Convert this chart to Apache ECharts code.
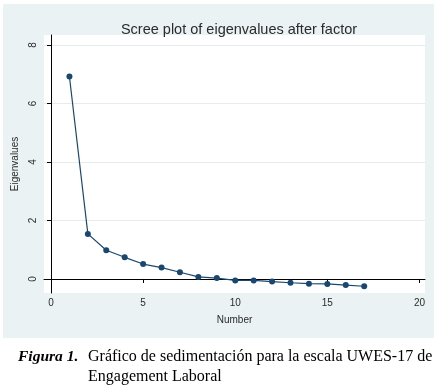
<!DOCTYPE html>
<html>
<head>
<meta charset="utf-8">
<script src="https://cdn.jsdelivr.net/npm/echarts@6/dist/echarts.min.js"></script>
<style>
  html, body { margin: 0; padding: 0; background: #ffffff; }
  #chart { width: 440px; height: 389px; }
</style>
</head>
<body>
<div id="chart"></div>
<script>
// eigenvalue number and value
const factorNumbers = [1, 2, 3, 4, 5, 6, 7, 8, 9, 10, 11, 12, 13, 14, 15, 16, 17]
const eigenvalues = [6.92, 1.54, 0.98, 0.74, 0.51, 0.39, 0.23, 0.07, 0.03, -0.05, -0.05, -0.09, -0.13, -0.16, -0.17, -0.21, -0.25]
const xTicks = [0, 5, 10, 15, 20]
const yTicks = [0, 2, 4, 6, 8]

const navy = '#1a476f'
const panel = '#eaf2f3'
const ink = '#2b2b2b'
const captionFont = '"Liberation Serif", "Times New Roman", serif'

const chart = echarts.init(document.getElementById('chart'))

chart.setOption({
  animation: false,
  backgroundColor: '#ffffff',
  textStyle: { fontFamily: 'Liberation Sans, Arial, sans-serif' },
  graphic: [
    {
      type: 'rect',
      z: -10,
      shape: { x: 3, y: 4, width: 431, height: 334 },
      style: { fill: panel },
    },
    {
      type: 'text',
      left: 18,
      top: 347,
      style: {
        text: 'Figura 1.',
        font: 'italic bold 15.5px ' + captionFont,
        lineHeight: 20,
        fill: '#000',
      },
    },
    {
      type: 'text',
      left: 88,
      top: 347,
      style: {
        text: 'Gráfico de sedimentación para la escala UWES-17 de\nEngagement Laboral',
        font: '16px ' + captionFont,
        lineHeight: 20,
        fill: '#000',
      },
    },
  ],
  title: {
    text: 'Scree plot of eigenvalues after factor',
    left: 234,
    textAlign: 'center',
    top: 17,
    textStyle: { fontSize: 14.5, fontWeight: 'normal', color: ink },
  },
  grid: {
    left: 44,
    top: 35,
    right: 15,
    bottom: 96,
    show: true,
    backgroundColor: '#ffffff',
    borderWidth: 0,
  },
  xAxis: {
    type: 'value',
    min: -0.38,
    max: 20.3,
    name: 'Number',
    nameLocation: 'middle',
    nameGap: 22,
    nameTextStyle: { fontSize: 10, color: ink },
    axisLine: { show: true, lineStyle: { color: '#000', width: 1 } },
    axisTick: { show: true, length: 4, customValues: xTicks, lineStyle: { color: '#000' } },
    axisLabel: { customValues: xTicks, fontSize: 10, color: ink, margin: 5 },
    splitLine: { show: false },
  },
  yAxis: {
    type: 'value',
    min: -0.48,
    max: 8.34,
    name: 'Eigenvalues',
    nameLocation: 'middle',
    nameRotate: 90,
    nameGap: 20,
    nameTextStyle: { fontSize: 10, color: ink },
    axisLine: { show: true, lineStyle: { color: '#000', width: 1 } },
    axisTick: { show: true, length: 4, customValues: yTicks, lineStyle: { color: '#000' } },
    axisLabel: { customValues: yTicks, fontSize: 10, color: ink, rotate: 90, margin: 6 },
    splitLine: { show: true, lineStyle: { color: '#e6ebee', width: 1 } },
  },
  series: [
    {
      type: 'line',
      data: factorNumbers.map((n, i) => [n, eigenvalues[i]]),
      symbol: 'circle',
      symbolSize: 6,
      itemStyle: { color: navy },
      lineStyle: { color: navy, width: 1.2 },
    },
  ],
})
</script>
</body>
</html>
